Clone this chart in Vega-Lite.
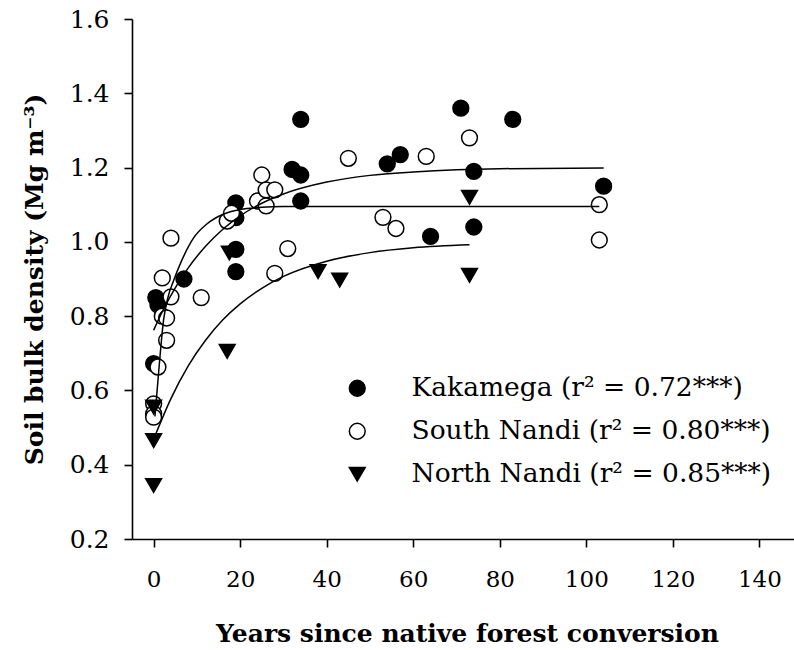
{
  "$schema": "https://vega.github.io/schema/vega-lite/v6.json",
  "width": 662,
  "height": 520,
  "autosize": {"type": "none"},
  "padding": {"left": 132, "top": 19, "right": 0, "bottom": 111},
  "background": "white",
  "config": {
    "view": {"stroke": null},
    "font": "DejaVu Serif",
    "axis": {
      "domainColor": "black",
      "domainWidth": 1.6,
      "tickColor": "black",
      "tickWidth": 1.6,
      "tickSize": 8,
      "grid": false,
      "labelColor": "black",
      "labelFont": "DejaVu Serif",
      "labelFontSize": 25,
      "titleColor": "black",
      "titleFont": "DejaVu Serif",
      "titleFontWeight": "bold",
      "titleFontSize": 25
    },
    "legend": {
      "orient": "none",
      "legendX": 212,
      "legendY": 356,
      "padding": 0,
      "labelFont": "DejaVu Serif",
      "labelFontSize": 26.5,
      "labelColor": "black",
      "labelLimit": 0,
      "symbolSize": 250,
      "symbolStrokeWidth": 1.5,
      "labelOffset": 41,
      "rowPadding": 16
    }
  },
  "datasets": {
    "sites": [
      {"site": "Kakamega", "years": 0, "bd": 0.672},
      {"site": "Kakamega", "years": 0.5, "bd": 0.85},
      {"site": "Kakamega", "years": 1, "bd": 0.83},
      {"site": "Kakamega", "years": 7, "bd": 0.9},
      {"site": "Kakamega", "years": 19, "bd": 1.105},
      {"site": "Kakamega", "years": 19, "bd": 1.065},
      {"site": "Kakamega", "years": 19, "bd": 0.98},
      {"site": "Kakamega", "years": 19, "bd": 0.92},
      {"site": "Kakamega", "years": 32, "bd": 1.195},
      {"site": "Kakamega", "years": 34, "bd": 1.33},
      {"site": "Kakamega", "years": 34, "bd": 1.18},
      {"site": "Kakamega", "years": 34, "bd": 1.11},
      {"site": "Kakamega", "years": 54, "bd": 1.21},
      {"site": "Kakamega", "years": 57, "bd": 1.235},
      {"site": "Kakamega", "years": 64, "bd": 1.015},
      {"site": "Kakamega", "years": 71, "bd": 1.36},
      {"site": "Kakamega", "years": 74, "bd": 1.19},
      {"site": "Kakamega", "years": 74, "bd": 1.04},
      {"site": "Kakamega", "years": 83, "bd": 1.33},
      {"site": "Kakamega", "years": 104, "bd": 1.15},
      {"site": "South Nandi", "years": 0, "bd": 0.564},
      {"site": "South Nandi", "years": 0, "bd": 0.537},
      {"site": "South Nandi", "years": 0, "bd": 0.528},
      {"site": "South Nandi", "years": 1, "bd": 0.663},
      {"site": "South Nandi", "years": 2, "bd": 0.8},
      {"site": "South Nandi", "years": 3, "bd": 0.795},
      {"site": "South Nandi", "years": 3, "bd": 0.735},
      {"site": "South Nandi", "years": 2, "bd": 0.903},
      {"site": "South Nandi", "years": 4, "bd": 0.852},
      {"site": "South Nandi", "years": 4, "bd": 1.01},
      {"site": "South Nandi", "years": 11, "bd": 0.85},
      {"site": "South Nandi", "years": 17, "bd": 1.056},
      {"site": "South Nandi", "years": 18, "bd": 1.077},
      {"site": "South Nandi", "years": 24, "bd": 1.11},
      {"site": "South Nandi", "years": 25, "bd": 1.18},
      {"site": "South Nandi", "years": 26, "bd": 1.14},
      {"site": "South Nandi", "years": 26, "bd": 1.097},
      {"site": "South Nandi", "years": 28, "bd": 1.14},
      {"site": "South Nandi", "years": 28, "bd": 0.915},
      {"site": "South Nandi", "years": 31, "bd": 0.982},
      {"site": "South Nandi", "years": 45, "bd": 1.225},
      {"site": "South Nandi", "years": 53, "bd": 1.066},
      {"site": "South Nandi", "years": 56, "bd": 1.036},
      {"site": "South Nandi", "years": 63, "bd": 1.23},
      {"site": "South Nandi", "years": 73, "bd": 1.28},
      {"site": "South Nandi", "years": 103, "bd": 1.1},
      {"site": "South Nandi", "years": 103, "bd": 1.005},
      {"site": "North Nandi", "years": 0, "bd": 0.555},
      {"site": "North Nandi", "years": 0, "bd": 0.465},
      {"site": "North Nandi", "years": 0, "bd": 0.344},
      {"site": "North Nandi", "years": 17, "bd": 0.705},
      {"site": "North Nandi", "years": 17.5, "bd": 0.97},
      {"site": "North Nandi", "years": 38, "bd": 0.92},
      {"site": "North Nandi", "years": 43, "bd": 0.897},
      {"site": "North Nandi", "years": 73, "bd": 1.12},
      {"site": "North Nandi", "years": 73, "bd": 0.91}
    ],
    "fits": [
      {"site": "Kakamega", "years": 0, "bd": 0.762},
      {"site": "Kakamega", "years": 2, "bd": 0.812},
      {"site": "Kakamega", "years": 5, "bd": 0.876},
      {"site": "Kakamega", "years": 8, "bd": 0.93},
      {"site": "Kakamega", "years": 12, "bd": 0.988},
      {"site": "Kakamega", "years": 16, "bd": 1.034},
      {"site": "Kakamega", "years": 20, "bd": 1.07},
      {"site": "Kakamega", "years": 25, "bd": 1.104},
      {"site": "Kakamega", "years": 30, "bd": 1.129},
      {"site": "Kakamega", "years": 40, "bd": 1.161},
      {"site": "Kakamega", "years": 50, "bd": 1.179},
      {"site": "Kakamega", "years": 60, "bd": 1.188},
      {"site": "Kakamega", "years": 70, "bd": 1.194},
      {"site": "Kakamega", "years": 80, "bd": 1.197},
      {"site": "Kakamega", "years": 104, "bd": 1.199},
      {"site": "South Nandi", "years": 0.3, "bd": 0.53},
      {"site": "South Nandi", "years": 1.2, "bd": 0.655},
      {"site": "South Nandi", "years": 2.3, "bd": 0.79},
      {"site": "South Nandi", "years": 3.3, "bd": 0.85},
      {"site": "South Nandi", "years": 4.6, "bd": 0.895},
      {"site": "South Nandi", "years": 6.5, "bd": 0.95},
      {"site": "South Nandi", "years": 9.2, "bd": 1.01},
      {"site": "South Nandi", "years": 12.3, "bd": 1.048},
      {"site": "South Nandi", "years": 16.2, "bd": 1.075},
      {"site": "South Nandi", "years": 20, "bd": 1.087},
      {"site": "South Nandi", "years": 25, "bd": 1.093},
      {"site": "South Nandi", "years": 30, "bd": 1.095},
      {"site": "South Nandi", "years": 103, "bd": 1.095},
      {"site": "North Nandi", "years": 0.4, "bd": 0.48},
      {"site": "North Nandi", "years": 4, "bd": 0.578},
      {"site": "North Nandi", "years": 8, "bd": 0.666},
      {"site": "North Nandi", "years": 12, "bd": 0.735},
      {"site": "North Nandi", "years": 16, "bd": 0.79},
      {"site": "North Nandi", "years": 20, "bd": 0.833},
      {"site": "North Nandi", "years": 25, "bd": 0.875},
      {"site": "North Nandi", "years": 30, "bd": 0.907},
      {"site": "North Nandi", "years": 40, "bd": 0.948},
      {"site": "North Nandi", "years": 50, "bd": 0.971},
      {"site": "North Nandi", "years": 60, "bd": 0.984},
      {"site": "North Nandi", "years": 73, "bd": 0.992}
    ]
  },
  "layer": [
    {
      "mark": {"type": "rule", "color": "black", "strokeWidth": 1.6},
      "encoding": {
        "y": {"datum": 1.6, "type": "quantitative", "scale": {"domain": [0.2, 1.6]}}
      }
    },
    {
      "data": {"name": "sites"},
      "mark": {"type": "point", "filled": false, "color": "black", "size": 250, "strokeWidth": 1.5, "opacity": 1},
      "encoding": {
        "x": {
          "field": "years",
          "type": "quantitative",
          "scale": {"domain": [-5, 148], "nice": false, "zero": false},
          "axis": {
            "values": [0, 20, 40, 60, 80, 100, 120, 140],
            "labelPadding": 21,
            "labelFontSize": 23,
            "title": "Years since native forest conversion",
            "titleX": 335,
            "titleY": 102,
            "titleBaseline": "alphabetic",
            "titleAlign": "center"
          }
        },
        "y": {
          "field": "bd",
          "type": "quantitative",
          "scale": {"domain": [0.2, 1.6], "nice": false, "zero": false},
          "axis": {
            "values": [0.2, 0.4, 0.6, 0.8, 1.0, 1.2, 1.4, 1.6],
            "format": ".1f",
            "labelPadding": 15,
            "title": "Soil bulk density (Mg m⁻³)",
            "titleAngle": 270,
            "titleX": -90,
            "titleY": 260,
            "titleBaseline": "alphabetic",
            "titleAlign": "center"
          }
        },
        "shape": {
          "field": "site",
          "type": "nominal",
          "scale": {"domain": ["Kakamega", "South Nandi", "North Nandi"], "range": ["circle", "circle", "triangle-down"]},
          "legend": {
            "title": null,
            "labelLimit": 0,
            "labelExpr": "datum.label == 'Kakamega' ? 'Kakamega (r² = 0.72***)' : datum.label == 'South Nandi' ? 'South Nandi (r² = 0.80***)' : 'North Nandi (r² = 0.85***)'"
          }
        },
        "fill": {
          "field": "site",
          "type": "nominal",
          "scale": {"domain": ["Kakamega", "South Nandi", "North Nandi"], "range": ["black", "white", "black"]},
          "legend": {
            "title": null,
            "labelLimit": 0,
            "labelExpr": "datum.label == 'Kakamega' ? 'Kakamega (r² = 0.72***)' : datum.label == 'South Nandi' ? 'South Nandi (r² = 0.80***)' : 'North Nandi (r² = 0.85***)'"
          }
        }
      }
    },
    {
      "data": {"name": "fits"},
      "mark": {"type": "line", "color": "black", "strokeWidth": 1.5, "interpolate": "monotone"},
      "encoding": {
        "x": {"field": "years", "type": "quantitative", "scale": {"domain": [-5, 148]}},
        "y": {"field": "bd", "type": "quantitative", "scale": {"domain": [0.2, 1.6]}},
        "detail": {"field": "site", "type": "nominal"}
      }
    }
  ]
}
